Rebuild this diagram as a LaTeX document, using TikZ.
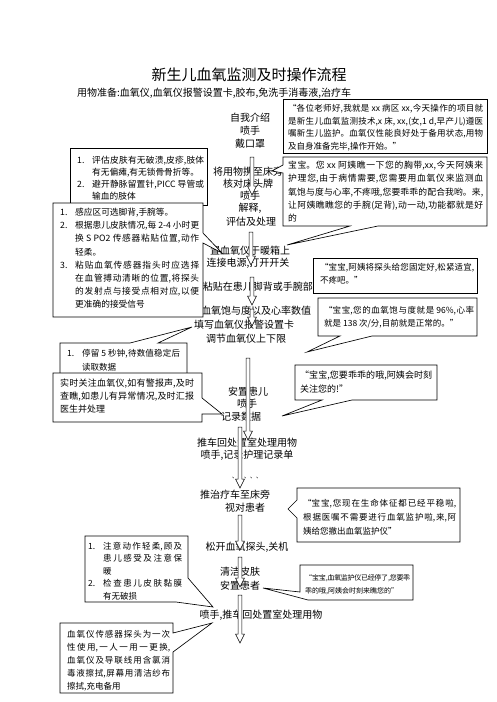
\documentclass[tikz,border=0pt]{standalone}
\usepackage{fontspec}
\setmainfont{Noto Sans CJK SC}
\XeTeXlinebreaklocale "zh"
\XeTeXlinebreakskip=0pt plus 2pt minus 0.5pt
\tolerance=10000
\hbadness=10000
\newcommand{\blockdown}[3]{%
  \draw[blockarrow] (#1-1.8,#2) -- (#1+1.8,#2) -- (#1+1.8,#3-9) -- (#1+4.5,#3-9) -- (#1,#3) -- (#1-4.5,#3-9) -- (#1-1.8,#3-9) -- cycle;}
\newcommand{\itm}[1]{\hangindent=15pt\hangafter=1\makebox[15pt][l]{#1}}
\tikzset{
  box/.style={draw=black, line width=0.65pt, fill=white, line join=miter},
  blockarrow/.style={draw=black, line width=0.5pt, fill=white},
  ctext/.style={anchor=north west, inner sep=0pt, align=justify},
  mid/.style={inner sep=0pt, font=\fontsize{10}{12}\selectfont},
}
\begin{document}
\begin{tikzpicture}[x=1pt,y=-1pt]
\fill[white] (0,0) rectangle (496,702);
\useasboundingbox (0,0) rectangle (496,702);

% title
\node[font=\fontsize{15}{18}\selectfont, inner sep=0pt] (title) at (249,75) {新生儿血氧监测及时操作流程};
\node[anchor=west, inner sep=0pt, font=\fontsize{10}{12}\selectfont] (prep) at (77,93) {用物准备:血氧仪,血氧仪报警设置卡,胶布,免洗手消毒液,治疗车};

% central column
\node[mid] (c1) at (250,118) {自我介绍};
\node[mid] (c2) at (250,131) {喷手};
\node[mid] (c3) at (250,144) {戴口罩};
\node[mid] (c4) at (248,172) {将用物携至床旁};
\node[mid] (c5) at (248,184) {核对床头牌};
\node[mid] (c6) at (250,196) {喷手};
\node[mid] (c7) at (250,208) {解释,};
\node[mid] (c8) at (251,222) {评估及处理};
\node[mid] (c9) at (250,251) {置血氧仪于暖箱上};
\node[mid] (c10) at (248,263) {连接电源,打开开关};
\node[mid, anchor=east] (c11) at (313,287) {粘贴在患儿脚背或手腕部};
\node[mid] (c12) at (256,311) {血氧饱与度以及心率数值};
\node[mid] (c13) at (244,325) {填写血氧仪报警设置卡};
\node[mid] (c14) at (246,339) {调节血氧仪上下限};
\node[mid] (c15) at (248,392) {安置患儿};
\node[mid] (c16) at (247,404) {喷手};
\node[mid] (c17) at (241,417) {记录数据};
\node[mid] (c18) at (247,443) {推车回处置室处理用物};
\node[mid] (c19) at (247,455) {喷手,记录护理记录单};
\node[inner sep=0pt, font=\fontsize{6}{7}\selectfont] (c20) at (247,478) {、、、、、};
\node[mid] (c21) at (235,495) {推治疗车至床旁};
\node[mid] (c22) at (245,508) {视对患者};
\node[mid] (c23) at (247,547) {松开血氧探头,关机};
\node[mid] (c24) at (240,572) {清洁皮肤};
\node[mid] (c25) at (240,586) {安置患者};
\node[mid] (c26) at (261,615) {喷手,推车回处置室处理用物};

% block arrows
\blockdown{252}{157}{195}
\blockdown{251}{232}{265}
\blockdown{252}{277}{305}
\blockdown{252}{309}{326}
\blockdown{248}{358}{440}
\blockdown{240}{427}{488}
\blockdown{240}{515}{550}
\blockdown{240}{557}{587}
\blockdown{240}{595}{643}

% right callouts
\draw[box] (283,99) rectangle (487,153);
\node[ctext, text width=195pt, font=\fontsize{8.5}{12.7}\selectfont] (r1) at (288,104) {“各位老师好,我就是 xx 病区 xx,今天操作的项目就\linebreak 是新生儿血氧监测技术,x 床, xx,(女,1 d,早产儿)遵医\linebreak 嘱新生儿监护。血氧仪性能良好处于备用状态,用物\linebreak 及自身准备完毕,操作开始。”};

\draw[box] (283,157) -- (487,157) -- (487,226) -- (378,226) -- (287,245) -- (350,226) -- (283,226) -- (283,173) -- (272,171) -- (283,165) -- cycle;
\node[ctext, text width=195pt, font=\fontsize{8.8}{13.3}\selectfont] (r2) at (288,161) {宝宝。您 xx 阿姨瞧一下您的胸带,xx,今天阿姨来\linebreak 护理您,由于病情需要,您需要用血氧仪来监测血\linebreak 氧饱与度与心率,不疼哦,您要乖乖的配合我哟。来,\linebreak 让阿姨瞧瞧您的手腕(足背),动一动,功能都就是好\linebreak 的};

\draw[box] (313,258) rectangle (477,293);
\node[ctext, text width=154pt, font=\fontsize{8.5}{13}\selectfont] (r3) at (320,263) {“宝宝,阿姨将探头给您固定好,松紧适宜,\linebreak 不疼吧。”};

\draw[box] (318,298) -- (477,298) -- (477,336) -- (372,336) -- (307,352) -- (340,336) -- (318,336) -- cycle;
\node[ctext, text width=150pt, font=\fontsize{8.5}{13}\selectfont] (r4) at (324,306) {“宝宝,您的血氧饱与度就是 96\%,心率\linebreak 就是 138 次/分,目前就是正常的。”};

\draw[box] (295,365) -- (437,365) -- (437,400) -- (352,400) -- (282,416) -- (322,400) -- (295,400) -- cycle;
\node[ctext, text width=132pt, font=\fontsize{9}{14}\selectfont] (r5) at (300,371) {“宝宝,您要乖乖的哦,阿姨会时刻\linebreak 关注您的!”};

\draw[box] (297,488) -- (460,488) -- (460,542) -- (297,542) -- (297,518) -- (288,509) -- (297,500) -- cycle;
\node[ctext, text width=153pt, font=\fontsize{8.5}{14}\selectfont] (r6) at (303,499) {“宝宝,您现在生命体征都已经平稳啦,\linebreak 根据医嘱不需要进行血氧监护啦,来,阿\linebreak 姨给您撤出血氧监护仪”};

\draw[box] (300,565) -- (413,565) -- (413,600) -- (308,600) -- (263,588) -- (300,592) -- cycle;
\node[ctext, text width=105pt, font=\fontsize{7}{13}\selectfont] (r7) at (305,574) {“宝宝,血氧监护仪已经停了,您要乖\linebreak 乖的哦,阿姨会时刻来瞧您的”};

% left callouts
\draw[box] (70,148) rectangle (207,205);
\node[ctext, text width=127pt, font=\fontsize{8.7}{12}\selectfont] (l1) at (77,156) {\itm{1.}评估皮肤有无破溃,皮疹,肢体\linebreak 有无偏瘫,有无锁骨骨折等。\par\itm{2.}避开静脉留置针,PICC 导管或\linebreak 输血的肢体\par};

\draw[box] (53,203) -- (203,203) -- (203,233) -- (222,253) -- (203,243) -- (203,317) -- (53,317) -- cycle;
\node[ctext, text width=139pt, font=\fontsize{8.7}{13.2}\selectfont] (l2) at (60,208) {\itm{1.}感应区可选脚背,手腕等。\par\itm{2.}根据患儿皮肤情况,每 2-4 小时更\linebreak 换 S PO2 传感器粘贴位置,动作\linebreak 轻柔。\par\itm{3.}粘贴血氧传感器指头时应选择\linebreak 在血管搏动清晰的位置,将探头\linebreak 的发射点与接受点相对应,以便\linebreak 更准确的接受信号\par};

\draw[box] (60,343) -- (130,343) -- (192,327) -- (158,343) -- (187,343) -- (187,380) -- (60,380) -- cycle;
\node[ctext, text width=113pt, font=\fontsize{8.5}{14}\selectfont] (l3) at (67,349) {\itm{1.}停留 5 秒钟,待数值稳定后\linebreak 读取数据\par};

\draw[box] (53,373) -- (202,373) -- (202,398) -- (222,414) -- (202,414) -- (202,422) -- (53,422) -- cycle;
\node[ctext, text width=134pt, font=\fontsize{9}{13}\selectfont] (l4) at (60,379) {实时关注血氧仪,如有警报声,及时\linebreak 查瞧,如患儿有异常情况,及时汇报\linebreak 医生并处理};

\draw[box] (85,536) -- (188,536) -- (188,578) -- (213,607) -- (176,602) -- (85,602) -- cycle;
\node[ctext, text width=94pt, font=\fontsize{8.5}{12.5}\selectfont] (l5) at (88,542) {\itm{1.}注意动作轻柔,顾及\linebreak 患儿感受及注意保\linebreak 暖\par\itm{2.}检查患儿皮肤黏膜\linebreak 有无破损\par};

\draw[box] (60,623) -- (173,623) -- (173,633) -- (212,623) -- (173,652) -- (173,693) -- (60,693) -- cycle;
\node[ctext, text width=103pt, font=\fontsize{8.5}{13}\selectfont] (l6) at (67,630) {血氧仪传感器探头为一次\linebreak 性使用,一人一用一更换,\linebreak 血氧仪及导联线用含氯消\linebreak 毒液擦拭,屏幕用清洁纱布\linebreak 擦拭,充电备用};

\end{tikzpicture}
\end{document}
